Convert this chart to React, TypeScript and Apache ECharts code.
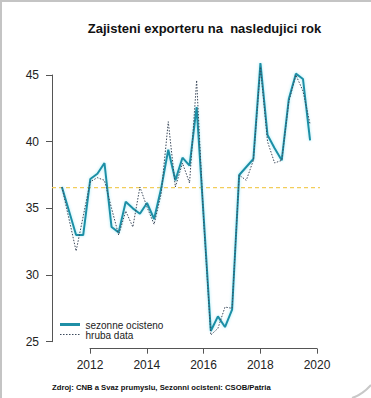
import React, { useEffect, useRef } from "react";
import * as echarts from "echarts";

const TITLE = "Zajisteni exporteru na  nasledujici rok";
const SOURCE = "Zdroj: CNB a Svaz prumyslu, Sezonni ocisteni: CSOB/Patria";
const SERIES_SA = "sezonne ocisteno";
const SERIES_RAW = "hruba data";

const quarters = [
  2011, 2011.25, 2011.5, 2011.75,
  2012, 2012.25, 2012.5, 2012.75,
  2013, 2013.25, 2013.5, 2013.75,
  2014, 2014.25, 2014.5, 2014.75,
  2015, 2015.25, 2015.5, 2015.75,
  2016, 2016.25, 2016.5, 2016.75,
  2017, 2017.25, 2017.5, 2017.75,
  2018, 2018.25, 2018.5, 2018.75,
  2019, 2019.25, 2019.5, 2019.75,
];

const seasonallyAdjusted = [
  36.6, 34.8, 33.0, 33.0,
  37.2, 37.6, 38.4, 33.6,
  33.2, 35.5, 35.0, 34.6,
  35.4, 34.2, 36.5, 39.4,
  37.1, 38.8, 38.2, 42.6,
  34.3, 25.8, 26.9, 26.1,
  27.4, 37.5, 38.1, 38.7,
  45.9, 40.5, 39.5, 38.6,
  43.2, 45.1, 44.7, 40.1,
];

const rawData = [
  36.6, 34.2, 31.8, 34.4,
  37.0, 37.3, 37.1, 35.0,
  33.0, 34.8, 33.6, 36.6,
  35.1, 33.8, 36.1, 41.5,
  36.6, 38.4, 36.9, 44.6,
  34.0, 25.5, 26.0, 27.6,
  27.5, 37.5, 37.1, 38.6,
  45.6, 40.0, 38.4, 38.6,
  43.0, 45.0, 43.8, 41.3,
];

const averageLevel = 36.55;
const plotXRange = [2010.65, 2020.1];

const xTicks = { min: 2012, max: 2020, interval: 2 };
const yTicks = { min: 25, max: 45, interval: 5 };

const FONT = "'Liberation Sans', Arial, sans-serif";
const SA_COLOR = "#1f8fa6";
const RAW_COLOR = "#3c4a5c";
const AVG_COLOR = "#f2cd5a";

export default function App() {
  const ref = useRef<HTMLDivElement>(null);
  useEffect(() => {
    if (!ref.current) return;
    const chart = echarts.init(ref.current, undefined, { renderer: "svg" });
    const saPts = quarters.map((q, i) => [q, seasonallyAdjusted[i]]);
    const rawPts = quarters.map((q, i) => [q, rawData[i]]);
    const axisLabelBase = {
      fontSize: 12,
      color: "#222",
      fontFamily: FONT,
      formatter: (v: number) => String(v),
    };
    chart.setOption({
      animation: false,
      backgroundColor: "#ffffff",
      grid: [
        { left: 52, right: 51, top: 75, bottom: 56.3 },
        { left: 90, right: 54, top: 75, bottom: 56.3 },
      ],
      xAxis: [
        {
          type: "value",
          gridIndex: 0,
          min: plotXRange[0],
          max: plotXRange[1],
          show: false,
        },
        {
          type: "value",
          gridIndex: 1,
          min: xTicks.min,
          max: xTicks.max,
          interval: xTicks.interval,
          offset: 7,
          axisLine: { show: true, lineStyle: { color: "#555", width: 1 } },
          axisTick: { show: true, length: 5, lineStyle: { color: "#555" } },
          splitLine: { show: false },
          axisLabel: { ...axisLabelBase, margin: 10 },
        },
      ],
      yAxis: [
        {
          type: "value",
          gridIndex: 0,
          min: yTicks.min,
          max: yTicks.max,
          interval: yTicks.interval,
          axisLine: { show: true, lineStyle: { color: "#555", width: 1 } },
          axisTick: { show: true, length: 6, lineStyle: { color: "#555" } },
          splitLine: { show: false },
          axisLabel: { ...axisLabelBase, margin: 13 },
        },
        {
          type: "value",
          gridIndex: 1,
          min: yTicks.min,
          max: yTicks.max,
          show: false,
        },
      ],
      series: [
        {
          type: "line",
          name: "avg",
          xAxisIndex: 0,
          yAxisIndex: 0,
          data: plotXRange.map((x) => [x, averageLevel]),
          symbol: "none",
          clip: false,
          silent: true,
          lineStyle: { color: AVG_COLOR, width: 1.3, type: [4, 3] },
        },
        {
          type: "line",
          name: SERIES_SA,
          xAxisIndex: 0,
          yAxisIndex: 0,
          data: saPts,
          symbol: "none",
          clip: false,
          lineStyle: {
            color: SA_COLOR,
            width: 2,
            shadowColor: "rgba(0,200,230,0.35)",
            shadowBlur: 3,
          },
        },
        {
          type: "line",
          name: SERIES_RAW,
          xAxisIndex: 0,
          yAxisIndex: 0,
          data: rawPts,
          symbol: "none",
          clip: false,
          lineStyle: { color: RAW_COLOR, width: 1, type: [1.5, 1.5] },
        },
      ],
      graphic: [
        {
          type: "line",
          shape: { x1: 1, y1: 0, x2: 1, y2: 398 },
          style: { stroke: "#c4c4c4", lineWidth: 2 },
        },
        {
          type: "line",
          shape: { x1: 0, y1: 1, x2: 371, y2: 1 },
          style: { stroke: "#c4c4c4", lineWidth: 2 },
        },
        {
          type: "text",
          x: 204.5,
          y: 28,
          style: {
            text: TITLE,
            fontSize: 13,
            fontWeight: "bold",
            fontFamily: FONT,
            fill: "#111",
            textAlign: "center",
            textVerticalAlign: "middle",
          },
        },
        {
          type: "line",
          shape: { x1: 60, y1: 324.5, x2: 80, y2: 324.5 },
          style: { stroke: SA_COLOR, lineWidth: 3 },
        },
        {
          type: "line",
          shape: { x1: 60, y1: 334.5, x2: 80, y2: 334.5 },
          style: { stroke: RAW_COLOR, lineWidth: 1, lineDash: [1.5, 1.5] },
        },
        {
          type: "text",
          x: 85.5,
          y: 325,
          style: {
            text: SERIES_SA,
            fontSize: 10,
            fontFamily: FONT,
            fill: "#222",
            textAlign: "left",
            textVerticalAlign: "middle",
          },
        },
        {
          type: "text",
          x: 85.5,
          y: 335,
          style: {
            text: SERIES_RAW,
            fontSize: 10,
            fontFamily: FONT,
            fill: "#222",
            textAlign: "left",
            textVerticalAlign: "middle",
          },
        },
        {
          type: "text",
          x: 52,
          y: 387.5,
          style: {
            text: SOURCE,
            fontSize: 7.7,
            fontWeight: "bold",
            fontFamily: FONT,
            fill: "#111",
            textAlign: "left",
            textVerticalAlign: "middle",
          },
        },
        {
          type: "bezierCurve",
          shape: { x1: 352, y1: 398, cpx1: 362, cpy1: 395, x2: 371, y2: 385 },
          style: { stroke: "#c8c8c8", lineWidth: 2, fill: "none" },
        },
      ],
    });
    return () => chart.dispose();
  }, []);
  return (
    <div
      ref={ref}
      style={{ position: "fixed", left: 0, top: 0, width: 371, height: 398 }}
    />
  );
}
